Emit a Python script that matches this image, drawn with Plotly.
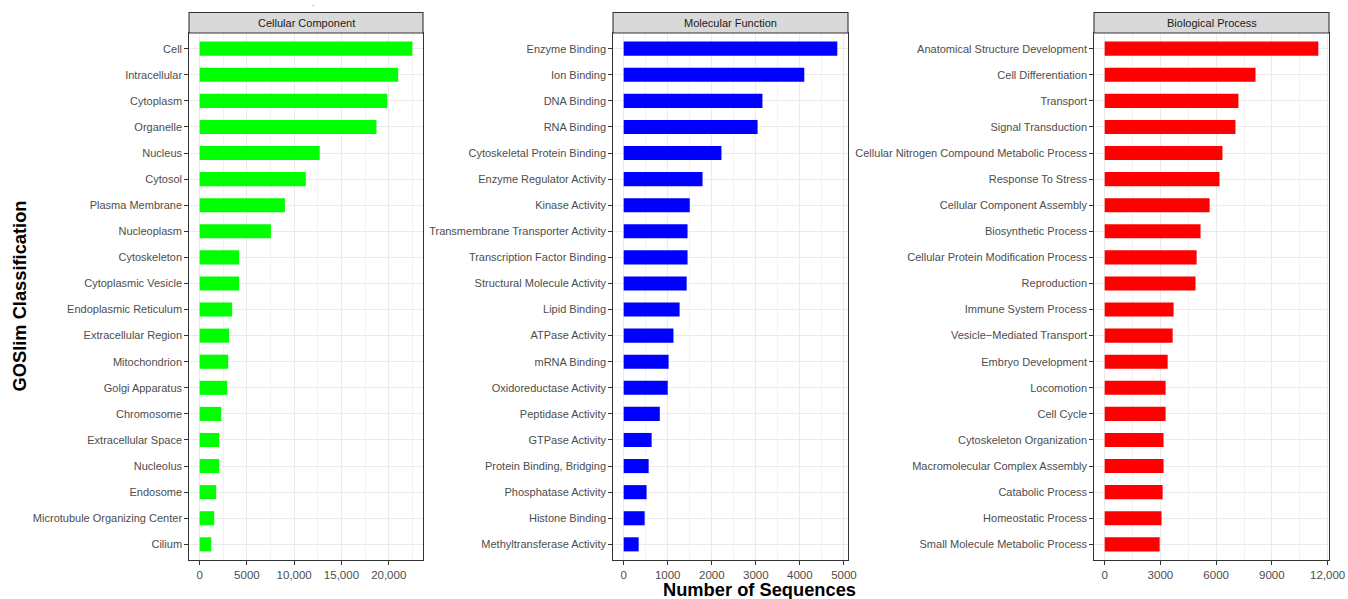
import plotly.graph_objects as go

# ---- data -------------------------------------------------------------
cc_terms = ["Cell", "Intracellular", "Cytoplasm", "Organelle", "Nucleus", "Cytosol",
            "Plasma Membrane", "Nucleoplasm", "Cytoskeleton", "Cytoplasmic Vesicle",
            "Endoplasmic Reticulum", "Extracellular Region", "Mitochondrion",
            "Golgi Apparatus", "Chromosome", "Extracellular Space", "Nucleolus",
            "Endosome", "Microtubule Organizing Center", "Cilium"]
cc_counts = [22500, 21000, 19850, 18700, 12700, 11230, 9020, 7540, 4180, 4180,
             3440, 3120, 3020, 2910, 2280, 2070, 2070, 1750, 1540, 1230]

mf_terms = ["Enzyme Binding", "Ion Binding", "DNA Binding", "RNA Binding",
            "Cytoskeletal Protein Binding", "Enzyme Regulator Activity", "Kinase Activity",
            "Transmembrane Transporter Activity", "Transcription Factor Binding",
            "Structural Molecule Activity", "Lipid Binding", "ATPase Activity",
            "mRNA Binding", "Oxidoreductase Activity", "Peptidase Activity",
            "GTPase Activity", "Protein Binding, Bridging", "Phosphatase Activity",
            "Histone Binding", "Methyltransferase Activity"]
mf_counts = [4850, 4100, 3150, 3040, 2220, 1790, 1500, 1450, 1450, 1430,
             1270, 1130, 1020, 1000, 820, 635, 567, 520, 476, 340]

bp_terms = ["Anatomical Structure Development", "Cell Differentiation", "Transport",
            "Signal Transduction", "Cellular Nitrogen Compound Metabolic Process",
            "Response To Stress", "Cellular Component Assembly", "Biosynthetic Process",
            "Cellular Protein Modification Process", "Reproduction",
            "Immune System Process", "Vesicle\u2212Mediated Transport", "Embryo Development",
            "Locomotion", "Cell Cycle", "Cytoskeleton Organization",
            "Macromolecular Complex Assembly", "Catabolic Process", "Homeostatic Process",
            "Small Molecule Metabolic Process"]
bp_counts = [11500, 8120, 7200, 7040, 6340, 6180, 5650, 5160, 4950, 4890,
             3710, 3660, 3390, 3280, 3280, 3170, 3170, 3120, 3060, 2960]

panel_titles = ["Cellular Component", "Molecular Function", "Biological Process"]
bar_colors = ["#00FF00", "#0000FF", "#FF0000"]

cc_ticks = [0, 5000, 10000, 15000, 20000]
cc_ticklabels = ["0", "5000", "10,000", "15,000", "20,000"]
mf_ticks = [0, 1000, 2000, 3000, 4000, 5000]
mf_ticklabels = ["0", "1000", "2000", "3000", "4000", "5000"]
bp_ticks = [0, 3000, 6000, 9000, 12000]
bp_ticklabels = ["0", "3000", "6000", "9000", "12,000"]

# ---- layout geometry (pixels) -----------------------------------------
W, H = 1348, 599
FONT = "Liberation Sans, Arial, Helvetica, sans-serif"
panel_x = [(189, 423), (613, 848), (1094, 1329)]
panel_top, panel_bottom = 33, 560
strip_top = 12.5


def py(y):
    return (H - y) / H


panels = [
    (cc_terms, cc_counts, cc_ticks, cc_ticklabels, 2500),
    (mf_terms, mf_counts, mf_ticks, mf_ticklabels, 500),
    (bp_terms, bp_counts, bp_ticks, bp_ticklabels, 1500),
]

fig = go.Figure()
layout = dict(
    width=W, height=H, autosize=False,
    margin=dict(l=0, r=0, t=0, b=0, pad=0),
    paper_bgcolor="white", plot_bgcolor="white",
    showlegend=False,
    font=dict(family=FONT, size=11, color="#4D4D4D"),
)
shapes, annotations = [], []

for i, (terms, counts, ticks, ticklabels, minor_step) in enumerate(panels):
    n = i + 1
    xname = "x" if n == 1 else f"x{n}"
    yname = "y" if n == 1 else f"y{n}"
    fig.add_trace(go.Bar(
        x=counts, y=terms, orientation="h",
        marker=dict(color=bar_colors[i], line=dict(width=0)),
        xaxis=xname, yaxis=yname, width=0.54,
    ))
    m = max(counts)
    x0, x1 = panel_x[i]
    layout[f"xaxis{'' if n == 1 else n}"] = dict(
        domain=[x0 / W, x1 / W], anchor=yname, automargin=False,
        range=[-0.05 * m, 1.05 * m],
        tickmode="array", tickvals=ticks, ticktext=ticklabels,
        showgrid=True, gridcolor="#EBEBEB", gridwidth=1.1,
        minor=dict(dtick=minor_step, tick0=0, showgrid=True,
                   gridcolor="#F2F2F2", gridwidth=0.6, ticks=""),
        zeroline=False,
        showline=True, linecolor="#333333", linewidth=1.1, mirror=True,
        ticks="outside", ticklen=3.7, tickwidth=1, tickcolor="#333333",
        tickfont=dict(family=FONT, size=11.5, color="#4D4D4D"),
    )
    layout[f"yaxis{'' if n == 1 else n}"] = dict(
        domain=[py(panel_bottom), py(panel_top)], anchor=xname, automargin=False,
        type="category", categoryorder="array", categoryarray=terms,
        range=[len(terms) - 1 + 0.6, -0.6],
        showgrid=True, gridcolor="#EBEBEB", gridwidth=1.1,
        zeroline=False,
        showline=True, linecolor="#333333", linewidth=1.1, mirror=True,
        ticks="outside", ticklen=3.7, tickwidth=1, tickcolor="#333333",
        tickfont=dict(family=FONT, size=11, color="#4D4D4D"),
    )
    # facet strip
    shapes.append(dict(
        type="rect", xref="paper", yref="paper",
        x0=x0 / W, x1=x1 / W, y0=py(panel_top), y1=py(strip_top),
        fillcolor="#D9D9D9", line=dict(color="#333333", width=1.1), layer="above",
    ))
    annotations.append(dict(
        xref="paper", yref="paper", x=(x0 + x1) / 2 / W, y=py((strip_top + panel_top) / 2),
        text=panel_titles[i], showarrow=False, xanchor="center", yanchor="middle",
        font=dict(family=FONT, size=11, color="#1A1A1A"),
    ))

# shared axis titles
annotations.append(dict(
    xref="paper", yref="paper", x=759 / W, y=py(589),
    text="<b>Number of Sequences</b>", showarrow=False,
    xanchor="center", yanchor="middle",
    font=dict(family=FONT, size=18.3, color="black"),
))
annotations.append(dict(
    xref="paper", yref="paper", x=19 / W, y=py(296.5),
    text="<b>GOSlim Classification</b>", showarrow=False, textangle=-90,
    xanchor="center", yanchor="middle",
    font=dict(family=FONT, size=18.3, color="black"),
))
annotations.append(dict(
    xref="paper", yref="paper", x=313 / W, y=py(5),
    text="-", showarrow=False, xanchor="center", yanchor="middle",
    font=dict(family=FONT, size=6, color="#4D4D4D"),
))

layout["shapes"] = shapes
layout["annotations"] = annotations
fig.update_layout(**layout)
fig.write_html(
    "out.html",
    config={"responsive": False},
    post_script="document.body.style.margin='0';document.body.style.overflow='hidden';",
)
